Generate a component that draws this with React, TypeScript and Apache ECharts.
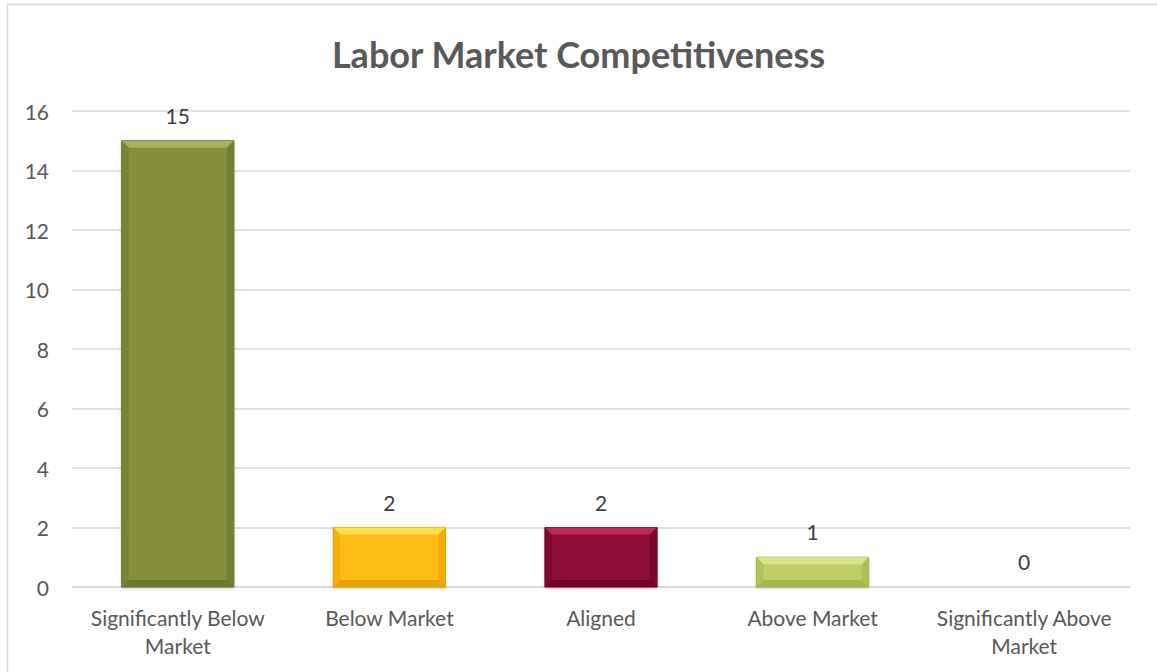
import React, { useEffect, useRef } from "react";
import * as echarts from "echarts";

const categories = [
  "Significantly Below\nMarket",
  "Below Market",
  "Aligned",
  "Above Market",
  "Significantly Above\nMarket",
];
const values = [15, 2, 2, 1, 0];
const yTicks = { min: 0, max: 16, interval: 2 };

const palette = [
  { face: "#858f3e", light: "#a5af5c", side: "#747e33", dark: "#66702a" },
  { face: "#fdbd14", light: "#ffde4c", side: "#f0ac06", dark: "#dc9c00" },
  { face: "#8c0b34", light: "#c02858", side: "#7c062c", dark: "#6a0022" },
  { face: "#bfcd66", light: "#dae58a", side: "#afbf54", dark: "#a0b046" },
  { face: "#858f3e", light: "#a5af5c", side: "#747e33", dark: "#66702a" },
];

const FONT = "Lato, 'Open Sans', sans-serif";

export default function App() {
  const ref = useRef<HTMLDivElement>(null);
  useEffect(() => {
    if (!ref.current) return;
    const chart = echarts.init(ref.current, null, { renderer: "svg" });
    const barFrac = 0.53;
    chart.setOption({
      animation: false,
      backgroundColor: "#ffffff",
      title: {
        text: "Labor Market Competitiveness",
        left: "center",
        top: 31,
        textStyle: { fontFamily: FONT, fontSize: 36, fontWeight: "bold", color: "#595959" },
      },
      graphic: [
        {
          type: "rect",
          shape: { x: 7.5, y: 4.5, width: 1170, height: 690 },
          style: { fill: "none", stroke: "#d9d9d9", lineWidth: 1.5 },
          silent: true,
        },
      ],
      grid: { left: 72, right: 27, top: 111, bottom: 85 },
      xAxis: {
        type: "category",
        data: categories,
        axisLine: { lineStyle: { color: "#d9d9d9", width: 1.5 } },
        axisTick: { show: false },
        axisLabel: {
          fontFamily: FONT,
          fontSize: 21,
          color: "#595959",
          lineHeight: 28,
          margin: 16,
          interval: 0,
        },
      },
      yAxis: {
        type: "value",
        min: yTicks.min,
        max: yTicks.max,
        interval: yTicks.interval,
        axisLine: { show: false },
        axisTick: { show: false },
        splitLine: { lineStyle: { color: "#d9d9d9", width: 1.5 } },
        axisLabel: { fontFamily: FONT, fontSize: 21, color: "#595959", margin: 23 },
      },
      series: [
        {
          type: "custom",
          data: values.map((v, i) => [i, v]),
          encode: { x: 0, y: 1 },
          z: 3,
          renderItem: (params: any, api: any) => {
            const idx = api.value(0);
            const v = api.value(1);
            if (!v) return { type: "group", children: [] };
            const top = api.coord([idx, v]);
            const base = api.coord([idx, 0]);
            const w = api.size([1, 0])[0] * barFrac;
            const x0 = top[0] - w / 2;
            const x1 = top[0] + w / 2;
            const y0 = top[1];
            const y1 = base[1];
            const b = Math.min(7, (y1 - y0) / 2);
            const c = palette[params.dataIndex];
            return {
              type: "group",
              children: [
                {
                  type: "rect",
                  shape: { x: x0, y: y0, width: w, height: y1 - y0 },
                  style: { fill: c.face, stroke: c.dark, lineWidth: 1, shadowBlur: 3, shadowColor: "rgba(0,0,0,0.2)", shadowOffsetY: 1 },
                },
                {
                  type: "polygon",
                  shape: { points: [[x0, y0], [x1, y0], [x1 - b, y0 + b], [x0 + b, y0 + b]] },
                  style: { fill: c.light },
                },
                {
                  type: "polygon",
                  shape: { points: [[x0, y0], [x0 + b, y0 + b], [x0 + b, y1 - b], [x0, y1]] },
                  style: { fill: c.side, opacity: 0.7 },
                },
                {
                  type: "polygon",
                  shape: { points: [[x1, y0], [x1, y1], [x1 - b, y1 - b], [x1 - b, y0 + b]] },
                  style: { fill: c.side },
                },
                {
                  type: "polygon",
                  shape: { points: [[x0, y1], [x0 + b, y1 - b], [x1 - b, y1 - b], [x1, y1]] },
                  style: { fill: c.dark, opacity: 0.8 },
                },
              ],
            };
          },
        },
        {
          type: "bar",
          data: values,
          barWidth: "53%",
          z: 4,
          itemStyle: { color: "rgba(0,0,0,0)" },
          label: {
            show: true,
            position: "top",
            distance: 15,
            fontFamily: FONT,
            fontSize: 21,
            color: "#404040",
          },
          silent: true,
        },
      ],
    });
    return () => chart.dispose();
  }, []);
  return (
    <div
      ref={ref}
      style={{ position: "absolute", left: 0, top: 0, width: 1157, height: 672 }}
    />
  );
}
